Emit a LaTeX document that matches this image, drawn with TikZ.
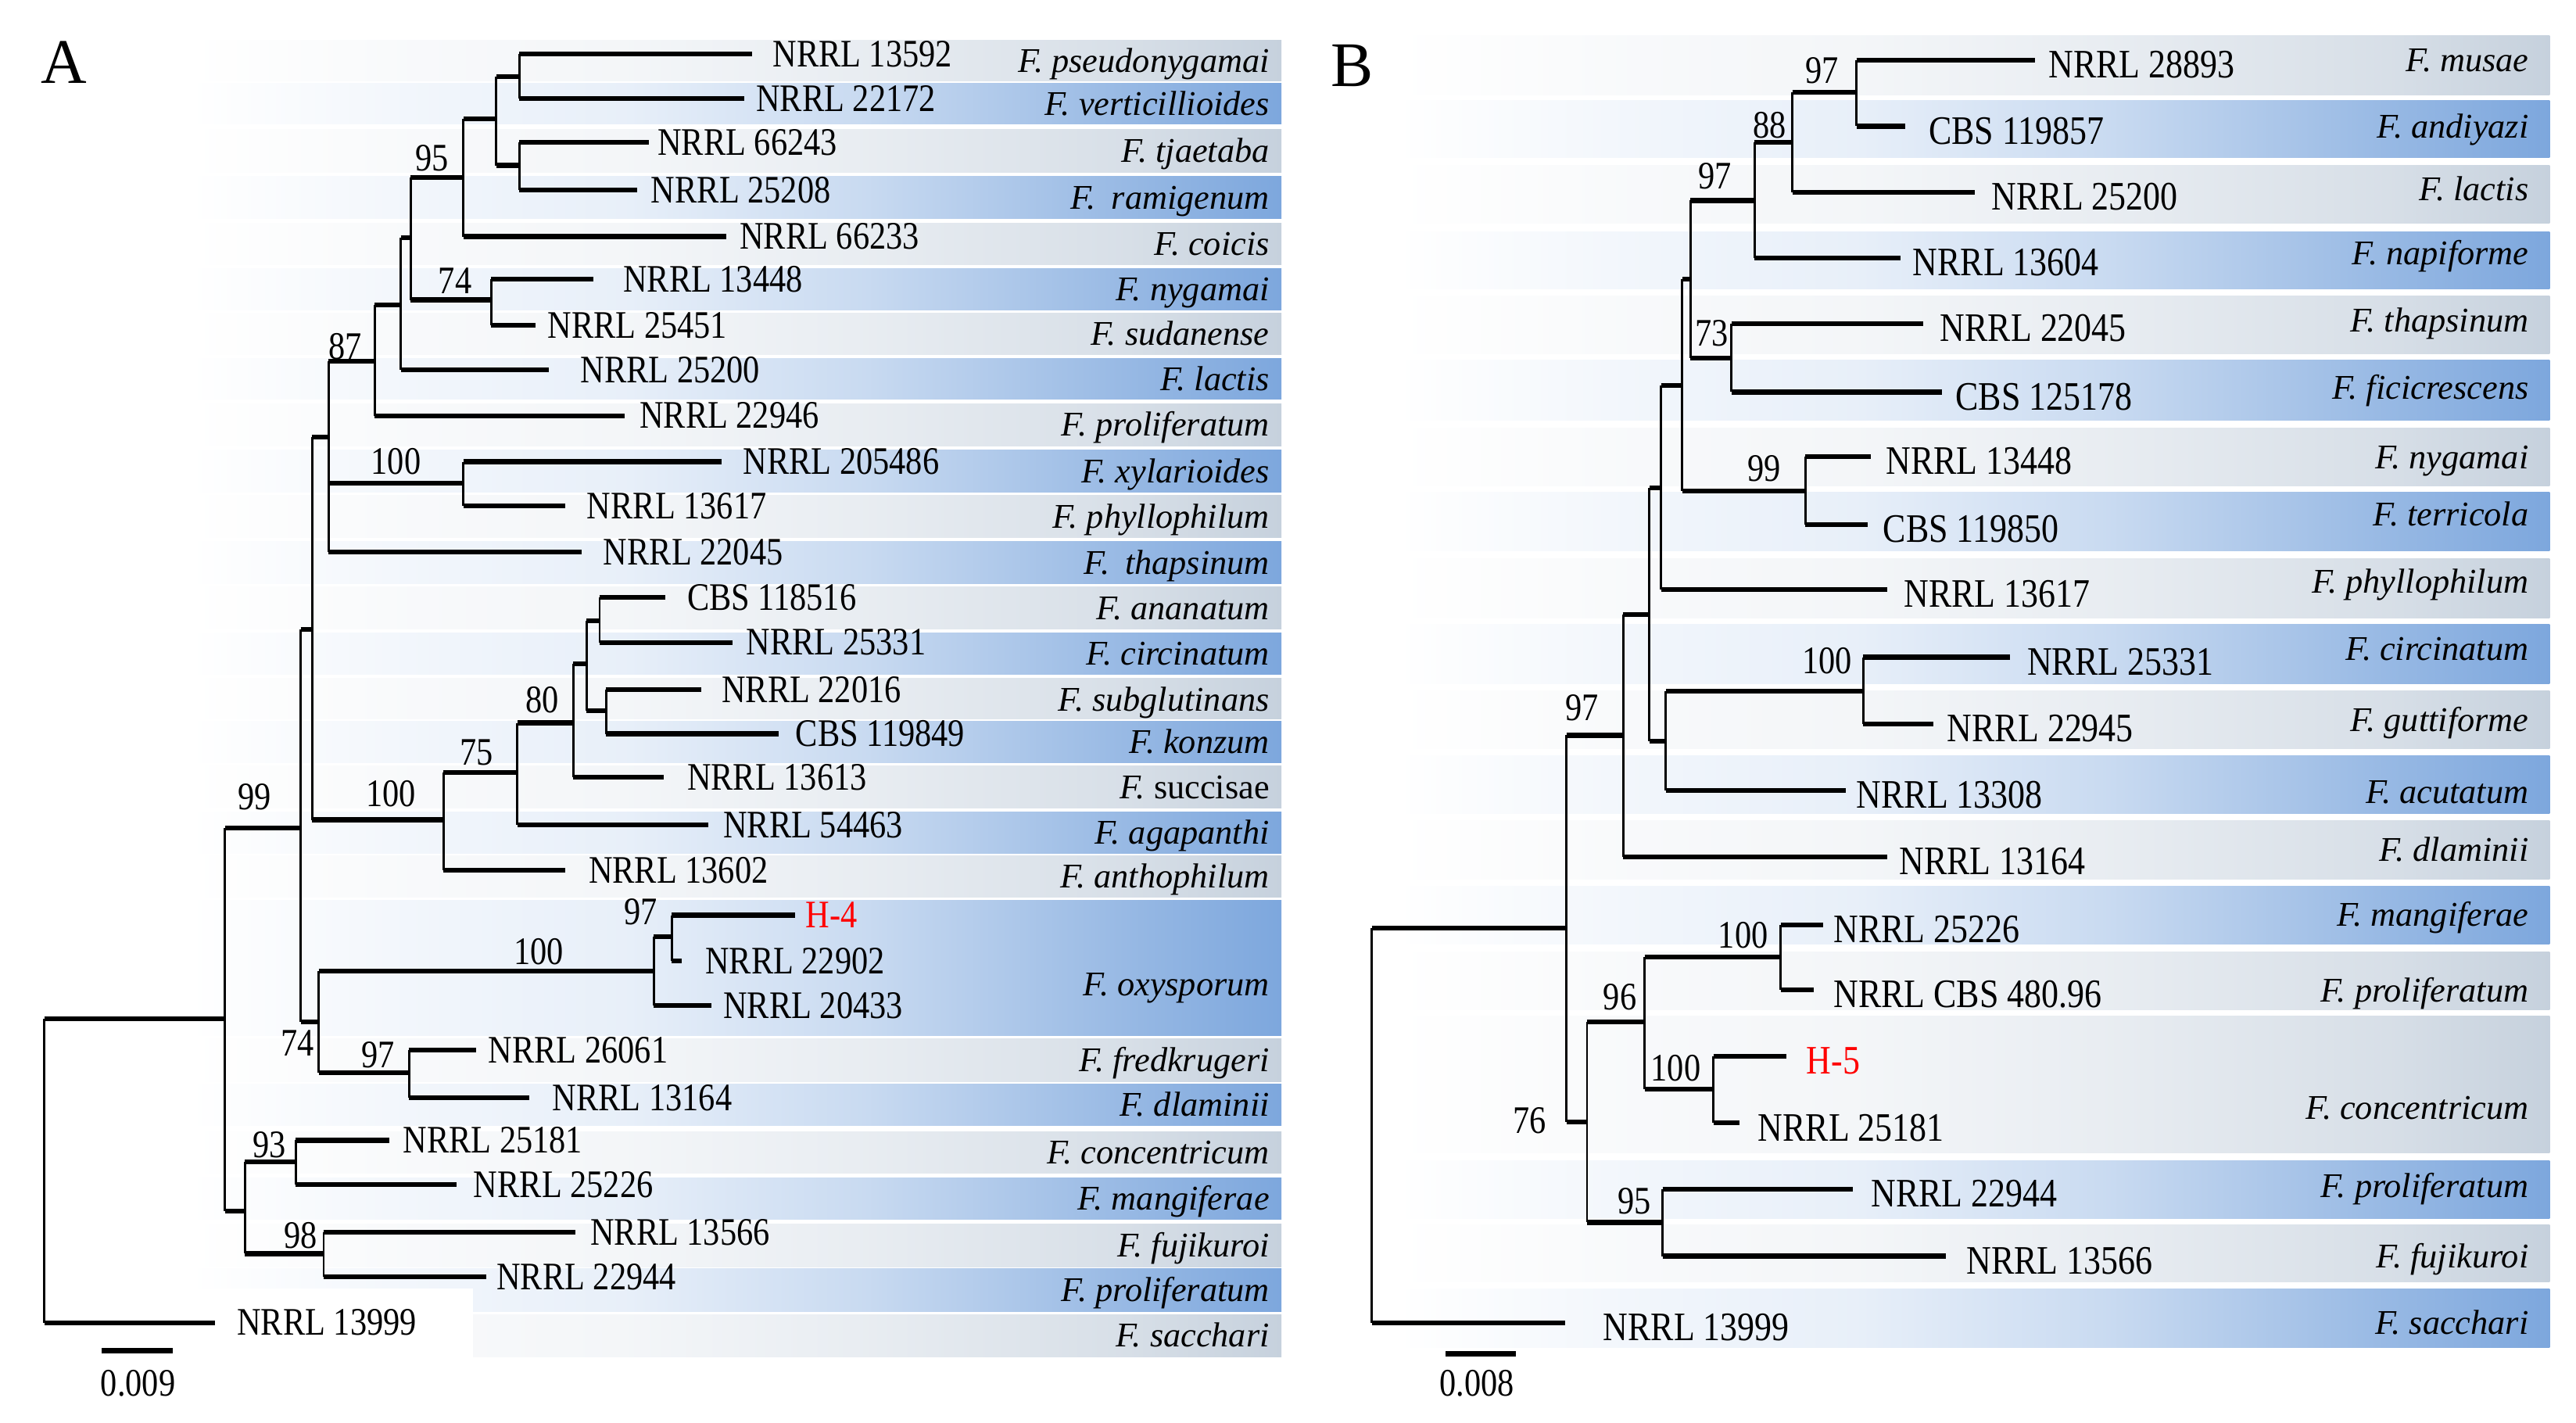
\documentclass[tikz,border=0pt]{standalone}
\usepackage{fontspec}
\setmainfont{Liberation Serif}
\newfontfamily\condfont{Liberation Serif}[FakeStretch=0.85]
\usepackage{xcolor}
\usepackage{tikz}
\definecolor{bandblue}{RGB}{125,167,221}
\definecolor{bandgrey}{RGB}{198,209,221}
\pgfdeclarehorizontalshading{blueband}{100bp}{color(0bp)=(white); color(25bp)=(white); color(35bp)=(bandblue!10); color(45bp)=(bandblue!18); color(56bp)=(bandblue!42); color(68bp)=(bandblue!80); color(75bp)=(bandblue); color(100bp)=(bandblue)}
\pgfdeclarehorizontalshading{greyband}{100bp}{color(0bp)=(white); color(25bp)=(white); color(35bp)=(bandgrey!12); color(45bp)=(bandgrey!20); color(56bp)=(bandgrey!40); color(68bp)=(bandgrey!70); color(75bp)=(bandgrey); color(100bp)=(bandgrey)}
\tikzset{vb/.style={line width=0.8pt},
  hb/.style={line width=1.7pt},
  tip/.style={anchor=west,inner xsep=0.2cm,inner ysep=0pt,font=\condfont\fontsize{13.5}{15}\selectfont},
  tipb/.style={tip,text height=12.3pt,text depth=0pt,font=\condfont\fontsize{14}{16}\selectfont},
  gap/.style={inner xsep=#1*0.02cm},
  bs/.style={inner sep=0pt,font=\condfont\fontsize{13.5}{15}\selectfont},
  sp/.style={anchor=base east,inner sep=0pt,font=\fontsize{12}{14}\selectfont\itshape},
  bb/.style={shade,shading=blueband},
  bg/.style={shade,shading=greyband},
  panel/.style={inner sep=0pt,font=\fontsize{22}{24}\selectfont}}

\begin{document}
\begin{tikzpicture}[x=0.02cm,y=-0.02cm]
    \useasboundingbox (0,0) rectangle (1568,866);

    \shade[bg] (115,24.5) rectangle (780,49.3);
    \shade[bb] (115,50.8) rectangle (780,75.6);
    \shade[bg] (115,78.7) rectangle (780,104.8);
    \shade[bb] (115,107.3) rectangle (780,133.2);
    \shade[bg] (115,135.9) rectangle (780,160.9);
    \shade[bb] (115,163.3) rectangle (780,188.6);
    \shade[bg] (115,190.4) rectangle (780,215.8);
    \shade[bb] (115,218.3) rectangle (780,243.1);
    \shade[bg] (115,245.6) rectangle (780,271.4);
    \shade[bb] (115,273.8) rectangle (780,299.5);
    \shade[bg] (115,301.4) rectangle (780,327.2);
    \shade[bb] (115,329.6) rectangle (780,355);
    \shade[bg] (115,357) rectangle (780,383);
    \shade[bb] (115,385.2) rectangle (780,410.6);
    \shade[bg] (115,412.8) rectangle (780,437.4);
    \shade[bb] (115,439) rectangle (780,464.3);
    \shade[bg] (115,466.2) rectangle (780,491.6);
    \shade[bb] (115,494) rectangle (780,519.2);
    \shade[bg] (115,521) rectangle (780,546);
    \shade[bb] (115,548) rectangle (780,630.5);
    \shade[bg] (115,632.4) rectangle (780,658.2);
    \shade[bb] (115,660) rectangle (780,685.2);
    \shade[bg] (115,688.8) rectangle (780,714);
    \shade[bb] (115,716.7) rectangle (780,741.9);
    \shade[bg] (115,744.8) rectangle (780,771);
    \shade[bb] (115,772.3) rectangle (780,798.2);
    \shade[bg] (115,800) rectangle (780,825.9);
    \fill[white] (115,784) rectangle (288,826);

    \shade[bg] (850,21.6) rectangle (1552,58);
    \shade[bb] (850,61) rectangle (1552,96);
    \shade[bg] (850,100.7) rectangle (1552,135.9);
    \shade[bb] (850,141) rectangle (1552,176);
    \shade[bg] (850,180) rectangle (1552,215.5);
    \shade[bb] (850,219) rectangle (1552,256);
    \shade[bg] (850,260.6) rectangle (1552,295.8);
    \shade[bb] (850,299.5) rectangle (1552,335.3);
    \shade[bg] (850,340) rectangle (1552,376);
    \shade[bb] (850,380) rectangle (1552,416);
    \shade[bg] (850,420.6) rectangle (1552,455.8);
    \shade[bb] (850,459.9) rectangle (1552,495.3);
    \shade[bg] (850,499.5) rectangle (1552,535.2);
    \shade[bb] (850,539.4) rectangle (1552,574.7);
    \shade[bg] (850,579.4) rectangle (1552,614.4);
    \shade[bg] (850,618.2) rectangle (1552,701.7);
    \shade[bb] (850,706.3) rectangle (1552,741.7);
    \shade[bg] (850,745.6) rectangle (1552,780);
    \shade[bb] (850,784.5) rectangle (1552,820.2);

    \node[panel] (pa) at (39,38) {A};
    \node[panel] (pb) at (823,40) {B};

    \node[sp] (fa1) at (773,43.9) {F. pseudonygamai};
    \node[sp] (fa2) at (773,70.2) {F. verticillioides};
    \node[sp] (fa3) at (773,98.8) {F. tjaetaba};
    \node[sp] (fa4) at (773,127.3) {F.\hspace{0.45em}ramigenum};
    \node[sp] (fa5) at (773,155.4) {F. coicis};
    \node[sp] (fa6) at (773,183) {F. nygamai};
    \node[sp] (fa7) at (773,210.1) {F. sudanense};
    \node[sp] (fa8) at (773,237.7) {F. lactis};
    \node[sp] (fa9) at (773,265.5) {F. proliferatum};
    \node[sp] (fa10) at (773,293.7) {F. xylarioides};
    \node[sp] (fa11) at (773,321.3) {F. phyllophilum};
    \node[sp] (fa12) at (773,349.3) {F.\hspace{0.45em}thapsinum};
    \node[sp] (fa13) at (773,377) {F. ananatum};
    \node[sp] (fa14) at (773,404.9) {F. circinatum};
    \node[sp] (fa15) at (773,432.7) {F. subglutinans};
    \node[sp] (fa16) at (773,458.3) {F. konzum};
    \node[sp] (fa17) at (773,485.9) {F. \upshape succisae};
    \node[sp] (fa18) at (773,513.6) {F. agapanthi};
    \node[sp] (fa19) at (773,540.4) {F. anthophilum};
    \node[sp] (fa20) at (773,605.8) {F. oxysporum};
    \node[sp] (fa21) at (773,652.3) {F. fredkrugeri};
    \node[sp] (fa22) at (773,679.4) {F. dlaminii};
    \node[sp] (fa23) at (773,708.4) {F. concentricum};
    \node[sp] (fa24) at (773,736.3) {F. mangiferae};
    \node[sp] (fa25) at (773,764.9) {F. fujikuroi};
    \node[sp] (fa26) at (773,792.3) {F. proliferatum};
    \node[sp] (fa27) at (773,819.7) {F. sacchari};

    \node[sp] (fb1) at (1539.5,43.7) {F. musae};
    \node[sp] (fb2) at (1539.5,84) {F. andiyazi};
    \node[sp] (fb3) at (1539.5,122) {F. lactis};
    \node[sp] (fb4) at (1539.5,161) {F. napiforme};
    \node[sp] (fb5) at (1539.5,202) {F. thapsinum};
    \node[sp] (fb6) at (1539.5,243) {F. ficicrescens};
    \node[sp] (fb7) at (1539.5,285.5) {F. nygamai};
    \node[sp] (fb8) at (1539.5,320) {F. terricola};
    \node[sp] (fb9) at (1539.5,361) {F. phyllophilum};
    \node[sp] (fb10) at (1539.5,402) {F. circinatum};
    \node[sp] (fb11) at (1539.5,445) {F. guttiforme};
    \node[sp] (fb12) at (1539.5,489) {F. acutatum};
    \node[sp] (fb13) at (1539.5,524) {F. dlaminii};
    \node[sp] (fb14) at (1539.5,563.6) {F. mangiferae};
    \node[sp] (fb15) at (1539.5,610) {F. proliferatum};
    \node[sp] (fb16) at (1539.5,681) {F. concentricum};
    \node[sp] (fb17) at (1539.5,728.8) {F. proliferatum};
    \node[sp] (fb18) at (1539.5,771.5) {F. fujikuroi};
    \node[sp] (fb19) at (1539.5,812) {F. sacchari};

    \node[tip,gap=12] (a1) at (458,33) {NRRL 13592};
    \node[tip,gap=7] (a2) at (453,60) {NRRL 22172};
    \node[tip,gap=5] (a3) at (395,86.6) {NRRL 66243};
    \node[tip,gap=8] (a4) at (388,115.7) {NRRL 25208};
    \node[tip,gap=8] (a5) at (442,144) {NRRL 66233};
    \node[tip,gap=18] (a6) at (361,170) {NRRL 13448};
    \node[tip,gap=7] (a7) at (326,198) {NRRL 25451};
    \node[tip,gap=19] (a8) at (334,225) {NRRL 25200};
    \node[tip,gap=9] (a9) at (380,253) {NRRL 22946};
    \node[tip,gap=13] (a10) at (439,281) {NRRL 205486};
    \node[tip,gap=13] (a11) at (344,308) {NRRL 13617};
    \node[tip,gap=13] (a12) at (354,336) {NRRL 22045};
    \node[tip,gap=13] (a13) at (405,363.7) {CBS 118516};
    \node[tip,gap=8] (a14) at (446,391) {NRRL 25331};
    \node[tip,gap=12] (a15) at (427,419.6) {NRRL 22016};
    \node[tip] (a16) at (474,446.6) {CBS 119849};
    \node[tip,gap=14] (a17) at (404,473) {NRRL 13613};
    \node[tip,gap=9] (a18) at (431,502) {NRRL 54463};
    \node[tip,gap=14] (a19) at (344,529.5) {NRRL 13602};
    \node[tip,gap=6,text=red] (a20) at (484,557) {H-4};
    \node[tip,gap=14] (a21) at (415,585) {NRRL 22902};
    \node[tip,gap=7] (a22) at (433,612) {NRRL 20433};
    \node[tip,gap=7] (a23) at (290,639) {NRRL 26061};
    \node[tip,gap=14] (a24) at (322,668) {NRRL 13164};
    \node[tip,gap=8] (a25) at (237,694) {NRRL 25181};
    \node[tip] (a26) at (278,721) {NRRL 25226};
    \node[tip,gap=9] (a27) at (350,750) {NRRL 13566};
    \node[tip,gap=6] (a28) at (296,777) {NRRL 22944};
    \node[tip,gap=13] (a29) at (131,805) {NRRL 13999};

    \coordinate (m1) at (316,46.7);
    \coordinate (m2) at (316,100.7);
    \coordinate (m3) at (302,72.5);
    \coordinate (m4) at (282,108);
    \coordinate (m5) at (299,182.5);
    \coordinate (m6) at (250,144.5);
    \coordinate (m7) at (244,185.5);
    \coordinate (m8) at (228,220);
    \coordinate (m9) at (282,294);
    \coordinate (m10) at (200,266);
    \coordinate (m11) at (365,378);
    \coordinate (m12) at (369,432.5);
    \coordinate (m13) at (357,404);
    \coordinate (m14) at (349,440);
    \coordinate (m15) at (315,470);
    \coordinate (m16) at (270,499);
    \coordinate (m17) at (190,383);
    \coordinate (m18) at (409,570);
    \coordinate (m19) at (398,591);
    \coordinate (m20) at (249,653);
    \coordinate (m21) at (194,622);
    \coordinate (m22) at (183,504);
    \coordinate (m23) at (180,707);
    \coordinate (m24) at (197,763);
    \coordinate (m25) at (149,737);
    \coordinate (m26) at (137,620);
    \coordinate (m27) at (27,712.5);

    \draw[vb] (m1 |- a1) -- (m1 |- a2);
    \draw[hb] (m1 |- a1) -- (a1);
    \draw[hb] (m1 |- a2) -- (a2);
    \draw[vb] (m2 |- a3) -- (m2 |- a4);
    \draw[hb] (m2 |- a3) -- (a3);
    \draw[hb] (m2 |- a4) -- (a4);
    \draw[vb] (m3 |- m1) -- (m3 |- m2);
    \draw[hb] (m3 |- m1) -- (m1);
    \draw[hb] (m3 |- m2) -- (m2);
    \draw[vb] (m4 |- m3) -- (m4 |- a5);
    \draw[hb] (m4 |- m3) -- (m3);
    \draw[hb] (m4 |- a5) -- (a5);
    \draw[vb] (m5 |- a6) -- (m5 |- a7);
    \draw[hb] (m5 |- a6) -- (a6);
    \draw[hb] (m5 |- a7) -- (a7);
    \draw[vb] (m6 |- m4) -- (m6 |- m5);
    \draw[hb] (m6 |- m4) -- (m4);
    \draw[hb] (m6 |- m5) -- (m5);
    \draw[vb] (m7 |- m6) -- (m7 |- a8);
    \draw[hb] (m7 |- m6) -- (m6);
    \draw[hb] (m7 |- a8) -- (a8);
    \draw[vb] (m8 |- m7) -- (m8 |- a9);
    \draw[hb] (m8 |- m7) -- (m7);
    \draw[hb] (m8 |- a9) -- (a9);
    \draw[vb] (m9 |- a10) -- (m9 |- a11);
    \draw[hb] (m9 |- a10) -- (a10);
    \draw[hb] (m9 |- a11) -- (a11);
    \draw[vb] (m10 |- m8) -- (m10 |- a12);
    \draw[hb] (m10 |- m8) -- (m8);
    \draw[hb] (m10 |- m9) -- (m9);
    \draw[hb] (m10 |- a12) -- (a12);
    \draw[vb] (m11 |- a13) -- (m11 |- a14);
    \draw[hb] (m11 |- a13) -- (a13);
    \draw[hb] (m11 |- a14) -- (a14);
    \draw[vb] (m12 |- a15) -- (m12 |- a16);
    \draw[hb] (m12 |- a15) -- (a15);
    \draw[hb] (m12 |- a16) -- (a16);
    \draw[vb] (m13 |- m11) -- (m13 |- m12);
    \draw[hb] (m13 |- m11) -- (m11);
    \draw[hb] (m13 |- m12) -- (m12);
    \draw[vb] (m14 |- m13) -- (m14 |- a17);
    \draw[hb] (m14 |- m13) -- (m13);
    \draw[hb] (m14 |- a17) -- (a17);
    \draw[vb] (m15 |- m14) -- (m15 |- a18);
    \draw[hb] (m15 |- m14) -- (m14);
    \draw[hb] (m15 |- a18) -- (a18);
    \draw[vb] (m16 |- m15) -- (m16 |- a19);
    \draw[hb] (m16 |- m15) -- (m15);
    \draw[hb] (m16 |- a19) -- (a19);
    \draw[vb] (m17 |- m10) -- (m17 |- m16);
    \draw[hb] (m17 |- m10) -- (m10);
    \draw[hb] (m17 |- m16) -- (m16);
    \draw[vb] (m18 |- a20) -- (m18 |- a21);
    \draw[hb] (m18 |- a20) -- (a20);
    \draw[hb] (m18 |- a21) -- (a21);
    \draw[vb] (m19 |- m18) -- (m19 |- a22);
    \draw[hb] (m19 |- m18) -- (m18);
    \draw[hb] (m19 |- a22) -- (a22);
    \draw[vb] (m20 |- a23) -- (m20 |- a24);
    \draw[hb] (m20 |- a23) -- (a23);
    \draw[hb] (m20 |- a24) -- (a24);
    \draw[vb] (m21 |- m19) -- (m21 |- m20);
    \draw[hb] (m21 |- m19) -- (m19);
    \draw[hb] (m21 |- m20) -- (m20);
    \draw[vb] (m22 |- m17) -- (m22 |- m21);
    \draw[hb] (m22 |- m17) -- (m17);
    \draw[hb] (m22 |- m21) -- (m21);
    \draw[vb] (m23 |- a25) -- (m23 |- a26);
    \draw[hb] (m23 |- a25) -- (a25);
    \draw[hb] (m23 |- a26) -- (a26);
    \draw[vb] (m24 |- a27) -- (m24 |- a28);
    \draw[hb] (m24 |- a27) -- (a27);
    \draw[hb] (m24 |- a28) -- (a28);
    \draw[vb] (m25 |- m23) -- (m25 |- m24);
    \draw[hb] (m25 |- m23) -- (m23);
    \draw[hb] (m25 |- m24) -- (m24);
    \draw[vb] (m26 |- m22) -- (m26 |- m25);
    \draw[hb] (m26 |- m22) -- (m22);
    \draw[hb] (m26 |- m25) -- (m25);
    \draw[vb] (m27 |- m26) -- (m27 |- a29);
    \draw[hb] (m27 |- m26) -- (m26);
    \draw[hb] (m27 |- a29) -- (a29);

    \node[bs] (ka1) at (263,96) {95};
    \node[bs] (ka2) at (277,171) {74};
    \node[bs] (ka3) at (210,211) {87};
    \node[bs] (ka4) at (241,281) {100};
    \node[bs] (ka5) at (155,485) {99};
    \node[bs] (ka6) at (238,483) {100};
    \node[bs] (ka7) at (290,458) {75};
    \node[bs] (ka8) at (330,426) {80};
    \node[bs] (ka9) at (390,555) {97};
    \node[bs] (ka10) at (328,579) {100};
    \node[bs] (ka11) at (181,635) {74};
    \node[bs] (ka12) at (230,642) {97};
    \node[bs] (ka13) at (164,697) {93};
    \node[bs] (ka14) at (183,752) {98};

    \node[tipb,gap=8] (b1) at (1238.6,36.7) {NRRL 28893};
    \node[tipb,gap=14] (b2) at (1159.7,76.8) {CBS 119857};
    \node[tipb] (b3) at (1202,117) {NRRL 25200};
    \node[tipb,gap=7] (b4) at (1157,157) {NRRL 13604};
    \node[tipb] (b5) at (1170.7,197) {NRRL 22045};
    \node[tipb,gap=8] (b6) at (1182,238.6) {CBS 125178};
    \node[tipb,gap=9] (b7) at (1138.7,278) {NRRL 13448};
    \node[tipb,gap=9] (b8) at (1137,319.3) {CBS 119850};
    \node[tipb] (b9) at (1148.7,358.8) {NRRL 13617};
    \node[tipb] (b10) at (1223.6,400) {NRRL 25331};
    \node[tipb,gap=8] (b11) at (1177,440.7) {NRRL 22945};
    \node[tipb,gap=6] (b12) at (1123.7,481) {NRRL 13308};
    \node[tipb,gap=7] (b13) at (1148.7,521.6) {NRRL 13164};
    \node[tipb,gap=6] (b14) at (1109.8,563) {NRRL 25226};
    \node[tipb,gap=12] (b15) at (1103.8,602.3) {NRRL CBS 480.96};
    \node[tipb,gap=12,text=red] (b16) at (1087.3,643) {H-5};
    \node[tipb,gap=11] (b17) at (1058.8,683.5) {NRRL 25181};
    \node[tipb,gap=11] (b18) at (1127.7,723.7) {NRRL 22944};
    \node[tipb,gap=12] (b19) at (1184.6,764.5) {NRRL 13566};
    \node[tipb,gap=23] (b20) at (952.5,805) {NRRL 13999};

    \coordinate (n1) at (1130,56);
    \coordinate (n2) at (1091,86.5);
    \coordinate (n3) at (1068,122);
    \coordinate (n4) at (1054,218);
    \coordinate (n5) at (1029,170);
    \coordinate (n6) at (1099,299);
    \coordinate (n7) at (1024,234.5);
    \coordinate (n8) at (1011,297);
    \coordinate (n9) at (1134,420.5);
    \coordinate (n10) at (1014,451);
    \coordinate (n11) at (1004,374);
    \coordinate (n12) at (988,447.5);
    \coordinate (n13) at (1084,582.5);
    \coordinate (n14) at (1043,663);
    \coordinate (n15) at (1001,622);
    \coordinate (n16) at (1012,744);
    \coordinate (n17) at (966,683);
    \coordinate (n18) at (953.5,565);
    \coordinate (n19) at (835,685);

    \draw[vb] (n1 |- b1) -- (n1 |- b2);
    \draw[hb] (n1 |- b1) -- (b1);
    \draw[hb] (n1 |- b2) -- (b2);
    \draw[vb] (n2 |- n1) -- (n2 |- b3);
    \draw[hb] (n2 |- n1) -- (n1);
    \draw[hb] (n2 |- b3) -- (b3);
    \draw[vb] (n3 |- n2) -- (n3 |- b4);
    \draw[hb] (n3 |- n2) -- (n2);
    \draw[hb] (n3 |- b4) -- (b4);
    \draw[vb] (n4 |- b5) -- (n4 |- b6);
    \draw[hb] (n4 |- b5) -- (b5);
    \draw[hb] (n4 |- b6) -- (b6);
    \draw[vb] (n5 |- n3) -- (n5 |- n4);
    \draw[hb] (n5 |- n3) -- (n3);
    \draw[hb] (n5 |- n4) -- (n4);
    \draw[vb] (n6 |- b7) -- (n6 |- b8);
    \draw[hb] (n6 |- b7) -- (b7);
    \draw[hb] (n6 |- b8) -- (b8);
    \draw[vb] (n7 |- n5) -- (n7 |- n6);
    \draw[hb] (n7 |- n5) -- (n5);
    \draw[hb] (n7 |- n6) -- (n6);
    \draw[vb] (n8 |- n7) -- (n8 |- b9);
    \draw[hb] (n8 |- n7) -- (n7);
    \draw[hb] (n8 |- b9) -- (b9);
    \draw[vb] (n9 |- b10) -- (n9 |- b11);
    \draw[hb] (n9 |- b10) -- (b10);
    \draw[hb] (n9 |- b11) -- (b11);
    \draw[vb] (n10 |- n9) -- (n10 |- b12);
    \draw[hb] (n10 |- n9) -- (n9);
    \draw[hb] (n10 |- b12) -- (b12);
    \draw[vb] (n11 |- n8) -- (n11 |- n10);
    \draw[hb] (n11 |- n8) -- (n8);
    \draw[hb] (n11 |- n10) -- (n10);
    \draw[vb] (n12 |- n11) -- (n12 |- b13);
    \draw[hb] (n12 |- n11) -- (n11);
    \draw[hb] (n12 |- b13) -- (b13);
    \draw[vb] (n13 |- b14) -- (n13 |- b15);
    \draw[hb] (n13 |- b14) -- (b14);
    \draw[hb] (n13 |- b15) -- (b15);
    \draw[vb] (n14 |- b16) -- (n14 |- b17);
    \draw[hb] (n14 |- b16) -- (b16);
    \draw[hb] (n14 |- b17) -- (b17);
    \draw[vb] (n15 |- n13) -- (n15 |- n14);
    \draw[hb] (n15 |- n13) -- (n13);
    \draw[hb] (n15 |- n14) -- (n14);
    \draw[vb] (n16 |- b18) -- (n16 |- b19);
    \draw[hb] (n16 |- b18) -- (b18);
    \draw[hb] (n16 |- b19) -- (b19);
    \draw[vb] (n17 |- n15) -- (n17 |- n16);
    \draw[hb] (n17 |- n15) -- (n15);
    \draw[hb] (n17 |- n16) -- (n16);
    \draw[vb] (n18 |- n12) -- (n18 |- n17);
    \draw[hb] (n18 |- n12) -- (n12);
    \draw[hb] (n18 |- n17) -- (n17);
    \draw[vb] (n19 |- n18) -- (n19 |- b20);
    \draw[hb] (n19 |- n18) -- (n18);
    \draw[hb] (n19 |- b20) -- (b20);

    \node[bs] (kb1) at (1109,43) {97};
    \node[bs] (kb2) at (1077,76) {88};
    \node[bs] (kb3) at (1044,107) {97};
    \node[bs] (kb4) at (1042,203) {73};
    \node[bs] (kb5) at (1074,285) {99};
    \node[bs] (kb6) at (1112,402) {100};
    \node[bs] (kb7) at (963,431) {97};
    \node[bs] (kb8) at (1061,569) {100};
    \node[bs] (kb9) at (986,607) {96};
    \node[bs] (kb10) at (1020,650) {100};
    \node[bs] (kb11) at (931,682) {76};
    \node[bs] (kb12) at (995,731) {95};

    \coordinate (sa1) at (62,822);
    \coordinate (sa2) at (105,822);
    \draw[hb] (sa1) -- (sa2);
    \node[bs] (la) at (84,842) {0.009};
    \coordinate (sb1) at (880,824);
    \coordinate (sb2) at (922.5,824);
    \draw[hb] (sb1) -- (sb2);
    \node[bs] (lb) at (899,842) {0.008};
\end{tikzpicture}
\end{document}
